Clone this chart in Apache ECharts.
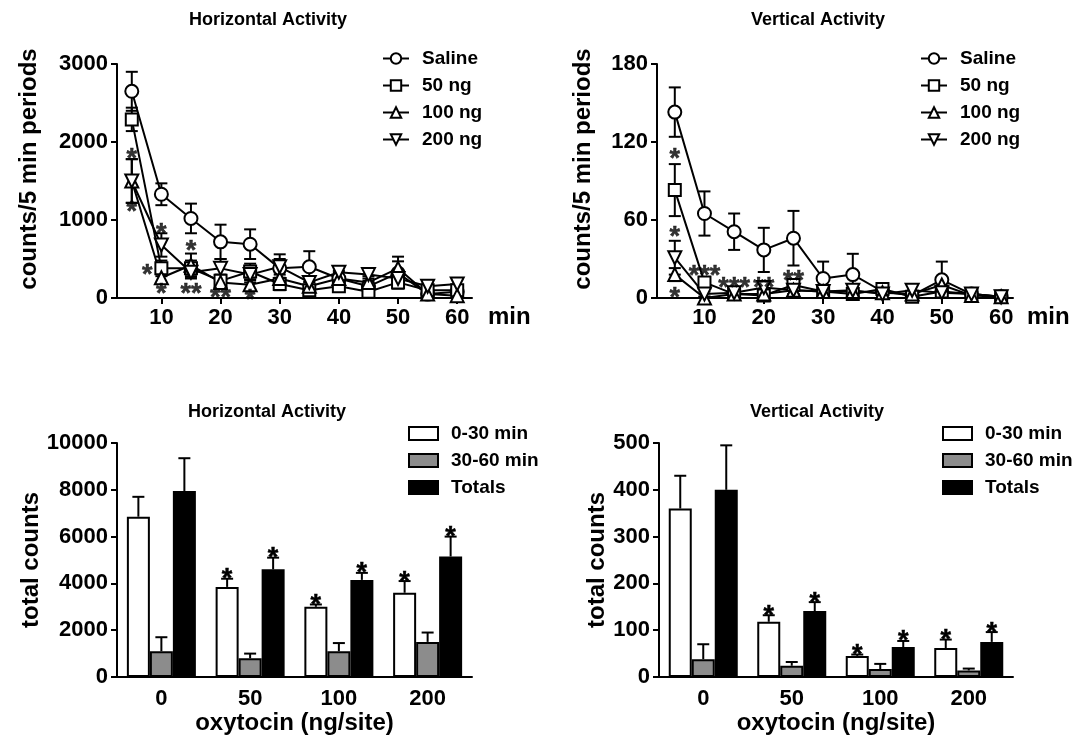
<!DOCTYPE html>
<html>
<head>
<meta charset="utf-8">
<script src="https://cdn.jsdelivr.net/npm/echarts@6/dist/echarts.min.js"></script>
<style>
html, body { margin: 0; padding: 0; background: #fff; }
#chart { width: 1074px; height: 748px; }
</style>
</head>
<body>
<div id="chart"></div>
<script>
// time points (min) for the 5 min periods
const minutes = [5, 10, 15, 20, 25, 30, 35, 40, 45, 50, 55, 60]
const minuteTicks = [10, 20, 30, 40, 50, 60]
const groups = ['Saline', '50 ng', '100 ng', '200 ng']

// horizontal activity, mean and sem per period
const horizSaline = [2650, 1330, 1020, 720, 690, 380, 400, 250, 150, 320, 50, 80]
const horizSalineSem = [250, 140, 190, 220, 190, 180, 200, 100, 100, 150, 40, 50]
const horiz50 = [2290, 380, 380, 220, 340, 180, 100, 150, 80, 200, 100, 100]
const horiz50Sem = [150, 100, 100, 80, 100, 80, 60, 60, 60, 80, 60, 60]
const horiz100 = [1500, 260, 420, 200, 170, 250, 150, 250, 200, 380, 50, 30]
const horiz100Sem = [280, 80, 150, 80, 60, 80, 60, 80, 80, 150, 40, 40]
const horiz200 = [1500, 680, 330, 380, 300, 400, 200, 330, 300, 250, 150, 180]
const horiz200Sem = [280, 150, 80, 120, 100, 100, 80, 80, 80, 100, 60, 60]
// [min, value, mark]
const horizStars = [[5, 1870, '*'], [5, 1190, '*'], [10, 900, '*'], [7.6, 380, '*'], [10, 130, '*'],
  [15, 680, '*'], [15, 130, '**'], [20, 80, '**'], [25, 60, '*']]

// vertical activity
const vertSaline = [143, 65, 51, 37, 46, 15, 18, 5, 2, 14, 3, 1]
const vertSalineSem = [19, 17, 14, 17, 21, 13, 16, 3, 2, 14, 2, 1]
const vert50 = [83, 12, 3, 2, 10, 5, 3, 7, 1, 5, 3, 1]
const vert50Sem = [20, 4, 2, 2, 4, 3, 4, 3, 2, 3, 2, 1]
const vert100 = [18, 0, 3, 3, 6, 5, 5, 4, 3, 10, 2, 1]
const vert100Sem = [5, 1, 2, 2, 3, 3, 3, 3, 2, 5, 2, 1]
const vert200 = [31, 3, 4, 8, 6, 5, 6, 3, 6, 4, 3, 1]
const vert200Sem = [13, 2, 2, 3, 3, 3, 3, 3, 4, 3, 2, 1]
const vertStars = [[5, 112, '*'], [5, 52, '*'], [5, 5, '*'], [10, 22, '***'], [15, 13, '***'],
  [20, 13, '**'], [25, 18, '**']]

// totals per dose
const doses = ['0', '50', '100', '200']
const periods = ['0-30 min', '30-60 min', 'Totals']
const horizFirst = [6850, 3850, 3000, 3600]
const horizFirstSem = [850, 350, 100, 500]
const horizSecond = [1100, 800, 1100, 1500]
const horizSecondSem = [600, 200, 350, 400]
const horizTotal = [7950, 4600, 4150, 5150]
const horizTotalSem = [1400, 500, 300, 850]
const vertFirst = [360, 118, 45, 62]
const vertFirstSem = [70, 14, 3, 18]
const vertSecond = [38, 24, 17, 14]
const vertSecondSem = [32, 8, 11, 4]
const vertTotal = [400, 141, 64, 75]
const vertTotalSem = [95, 19, 13, 21]
const firstStars = ['', '*', '*', '*']
const secondStars = ['', '', '', '']
const totalStars = ['', '*', '*', '*']

const FONT = '"Liberation Sans", Arial, Helvetica, sans-serif'
const BOLD = { fontFamily: FONT, fontWeight: 'bold', color: '#000' }

function lineSeries(name, symbol, size, means, axis) {
  return {
    name: name,
    type: 'line',
    xAxisIndex: axis,
    yAxisIndex: axis,
    data: minutes.map((m, i) => [m, means[i]]),
    symbol: symbol,
    symbolSize: size,
    lineStyle: { color: '#000', width: 2 },
    itemStyle: { color: '#fff', borderColor: '#000', borderWidth: 2 },
    z: 3,
    clip: false,
    animation: false
  }
}

function errorSeries(means, sems, axis) {
  return {
    type: 'custom',
    xAxisIndex: axis,
    yAxisIndex: axis,
    z: 2,
    silent: true,
    animation: false,
    encode: { x: 0, y: [1, 2] },
    data: minutes.map((m, i) => [m, Math.max(0, means[i] - sems[i]), means[i] + sems[i]]),
    renderItem: function(params, api) {
      const lo = api.coord([api.value(0), api.value(1)])
      const hi = api.coord([api.value(0), api.value(2)])
      const st = { stroke: '#000', lineWidth: 2 }
      return {
        type: 'group',
        children: [
          { type: 'line', shape: { x1: hi[0], y1: hi[1], x2: lo[0], y2: lo[1] }, style: st },
          { type: 'line', shape: { x1: hi[0] - 6, y1: hi[1], x2: hi[0] + 6, y2: hi[1] }, style: st },
          { type: 'line', shape: { x1: lo[0] - 6, y1: lo[1], x2: lo[0] + 6, y2: lo[1] }, style: st }
        ]
      }
    }
  }
}

function starSeries(stars, axis) {
  return {
    type: 'scatter',
    xAxisIndex: axis,
    yAxisIndex: axis,
    symbolSize: 1,
    itemStyle: { color: 'rgba(0,0,0,0)' },
    clip: false,
    silent: true,
    z: 4,
    data: stars,
    label: {
      show: true,
      position: 'inside',
      offset: [0, 7],
      formatter: p => p.value[2],
      fontSize: 27,
      textBorderColor: '#000',
      textBorderWidth: 0.5,
      ...BOLD
    }
  }
}

function barSeries(name, color, values, axis) {
  return {
    name: name,
    type: 'bar',
    xAxisIndex: axis,
    yAxisIndex: axis,
    data: values,
    barWidth: 23,
    barGap: '0%',
    itemStyle: { color: color, borderColor: '#000', borderWidth: 2 },
    z: 2,
    animation: false
  }
}

function barErrorSeries(values, sems, stars, offset, axis) {
  return {
    type: 'custom',
    xAxisIndex: axis,
    yAxisIndex: axis,
    z: 3,
    silent: true,
    animation: false,
    encode: { x: 0, y: [1, 2] },
    data: values.map((v, i) => [i, v, v + sems[i]]),
    renderItem: function(params, api) {
      const base = api.coord([api.value(0), api.value(1)])
      const top = api.coord([api.value(0), api.value(2)])
      const x = base[0] + offset
      const st = { stroke: '#000', lineWidth: 2 }
      const kids = [
        { type: 'line', shape: { x1: x, y1: base[1], x2: x, y2: top[1] }, style: st },
        { type: 'line', shape: { x1: x - 6, y1: top[1], x2: x + 6, y2: top[1] }, style: st }
      ]
      const s = stars[params.dataIndex]
      if (s) {
        kids.push({
          type: 'text',
          style: {
            x: x, y: top[1] + 1, text: s, align: 'center', verticalAlign: 'middle',
            font: 'bold 27px ' + FONT, fill: '#000', stroke: '#000', lineWidth: 0.5
          }
        })
      }
      return { type: 'group', children: kids }
    }
  }
}

const axisLine = { lineStyle: { color: '#000', width: 2 } }
const axisTick = { length: 6, lineStyle: { color: '#000', width: 2 } }
const plain = v => String(v)

function minuteAxis(idx, min, max, gap) {
  return {
    type: 'value',
    gridIndex: idx,
    min: min,
    max: max,
    name: 'min',
    nameLocation: 'end',
    nameGap: gap,
    nameTextStyle: { ...BOLD, fontSize: 24, verticalAlign: 'top', padding: [7, 0, 0, 0] },
    splitLine: { show: false },
    axisLine: axisLine,
    axisTick: { ...axisTick, customValues: minuteTicks },
    axisLabel: { ...BOLD, fontSize: 22, margin: 9, customValues: minuteTicks, formatter: plain }
  }
}

function doseAxis(idx) {
  return {
    type: 'category',
    gridIndex: idx,
    data: doses,
    name: 'oxytocin (ng/site)',
    nameLocation: 'middle',
    nameGap: 32,
    nameTextStyle: { ...BOLD, fontSize: 24 },
    axisLine: axisLine,
    axisTick: { ...axisTick, alignWithLabel: true },
    axisLabel: { ...BOLD, fontSize: 22, margin: 11 }
  }
}

function countAxis(idx, max, interval, name, gap, shift) {
  return {
    type: 'value',
    gridIndex: idx,
    min: 0,
    max: max,
    interval: interval,
    name: name,
    nameLocation: 'middle',
    nameGap: gap,
    nameTextStyle: { ...BOLD, fontSize: 24, padding: [0, 0, 0, shift] },
    splitLine: { show: false },
    axisLine: { show: true, ...axisLine },
    axisTick: { show: true, ...axisTick },
    axisLabel: { ...BOLD, fontSize: 22, margin: 9, formatter: plain }
  }
}

function titleAt(text, x, y) {
  return { text: text, left: x, top: y, textAlign: 'center', textStyle: { ...BOLD, fontSize: 18 } }
}

function legendAt(names, x, y, w, h, icon) {
  return {
    data: names,
    orient: 'vertical',
    left: x,
    top: y,
    icon: icon,
    itemWidth: w,
    itemHeight: h,
    itemGap: 8,
    selectedMode: false,
    textStyle: { ...BOLD, fontSize: 19, padding: [0, 0, 0, 8] }
  }
}

const myChart = echarts.init(document.getElementById('chart'))
const option = {
  backgroundColor: '#fff',
  animation: false,
  title: [
    titleAt('Horizontal Activity', 263, 6),
    titleAt('Vertical Activity', 813, 6),
    titleAt('Horizontal Activity', 262, 398),
    titleAt('Vertical Activity', 812, 398)
  ],
  legend: [
    legendAt(groups, 377, 44, 26, 13),
    legendAt(groups, 915, 44, 26, 13),
    legendAt(periods, 403, 419, 29, 13, 'rect'),
    legendAt(periods, 937, 419, 29, 13, 'rect')
  ],
  grid: [
    { left: 117, top: 64, width: 355, height: 234 },
    { left: 657, top: 64, width: 356, height: 234 },
    { left: 117, top: 443, width: 355, height: 234 },
    { left: 659, top: 443, width: 354, height: 234 }
  ],
  xAxis: [
    minuteAxis(0, 2.5, 62.5, 16),
    minuteAxis(1, 2, 62, 14),
    doseAxis(2),
    doseAxis(3)
  ],
  yAxis: [
    countAxis(0, 3000, 1000, 'counts/5 min periods', 76, 24),
    countAxis(1, 180, 60, 'counts/5 min periods', 62, 24),
    countAxis(2, 10000, 2000, 'total counts', 62, 0),
    countAxis(3, 500, 100, 'total counts', 50, 0)
  ],
  series: [
    errorSeries(horizSaline, horizSalineSem, 0),
    errorSeries(horiz50, horiz50Sem, 0),
    errorSeries(horiz100, horiz100Sem, 0),
    errorSeries(horiz200, horiz200Sem, 0),
    lineSeries('Saline', 'circle', 13, horizSaline, 0),
    lineSeries('50 ng', 'rect', 12, horiz50, 0),
    lineSeries('100 ng', 'triangle', 13, horiz100, 0),
    lineSeries('200 ng', 'path://M0,0L20,0L10,17Z', 13, horiz200, 0),
    starSeries(horizStars, 0),

    errorSeries(vertSaline, vertSalineSem, 1),
    errorSeries(vert50, vert50Sem, 1),
    errorSeries(vert100, vert100Sem, 1),
    errorSeries(vert200, vert200Sem, 1),
    lineSeries('Saline', 'circle', 13, vertSaline, 1),
    lineSeries('50 ng', 'rect', 12, vert50, 1),
    lineSeries('100 ng', 'triangle', 13, vert100, 1),
    lineSeries('200 ng', 'path://M0,0L20,0L10,17Z', 13, vert200, 1),
    starSeries(vertStars, 1),

    barSeries('0-30 min', '#fff', horizFirst, 2),
    barSeries('30-60 min', '#8c8c8c', horizSecond, 2),
    barSeries('Totals', '#000', horizTotal, 2),
    barErrorSeries(horizFirst, horizFirstSem, firstStars, -23, 2),
    barErrorSeries(horizSecond, horizSecondSem, secondStars, 0, 2),
    barErrorSeries(horizTotal, horizTotalSem, totalStars, 23, 2),

    barSeries('0-30 min', '#fff', vertFirst, 3),
    barSeries('30-60 min', '#8c8c8c', vertSecond, 3),
    barSeries('Totals', '#000', vertTotal, 3),
    barErrorSeries(vertFirst, vertFirstSem, firstStars, -23, 3),
    barErrorSeries(vertSecond, vertSecondSem, secondStars, 0, 3),
    barErrorSeries(vertTotal, vertTotalSem, totalStars, 23, 3)
  ]
}
myChart.setOption(option)
window.addEventListener('resize', function() {
  myChart.resize()
})
</script>
</body>
</html>
